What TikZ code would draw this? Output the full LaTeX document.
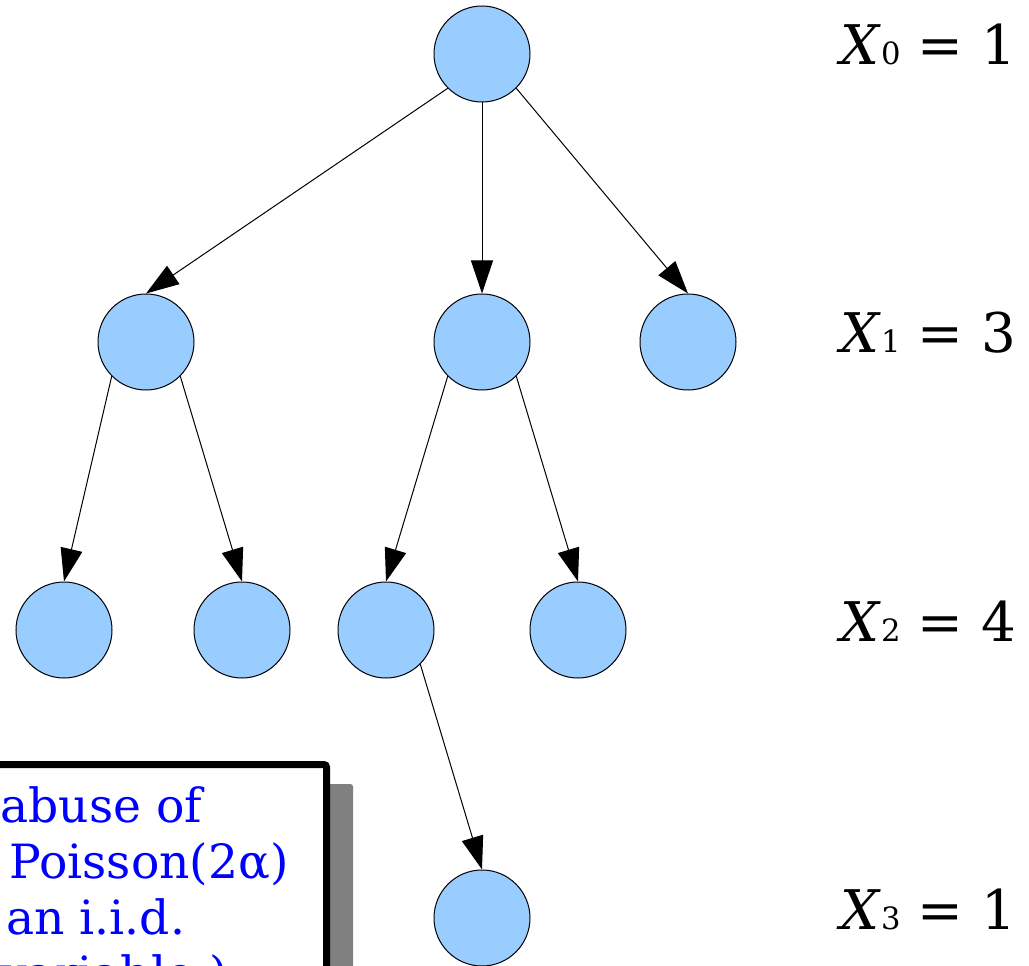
\documentclass[tikz,border=0pt]{standalone}
\usepackage{fontspec}
\setmainfont{DejaVu Serif}
\usetikzlibrary{arrows.meta}
\definecolor{nodeblue}{RGB}{153,204,255}
\definecolor{shadowgrey}{RGB}{128,128,128}
\newcommand{\gensize}{\fontsize{23}{27}\selectfont}
\begin{document}
\begin{tikzpicture}[x=0.75pt,y=-0.75pt,
  vertex/.style={circle,draw=black,line width=0.75pt,fill=nodeblue,minimum size=72pt,inner sep=0pt},
  edge/.style={line width=0.75pt,-{Triangle[length=24.75pt,width=16.5pt]}},
  count/.style={anchor=base west,inner sep=0pt,font=\fontsize{41}{49}\selectfont},
  note/.style={anchor=base west,inner sep=0pt,text=blue,font=\fontsize{35.4}{42}\selectfont}]
\useasboundingbox (0,0) rectangle (1029,966);

% generation 0
\node[vertex] (r) at (482,54) {};
% generation 1
\node[vertex] (a) at (146,342) {};
\node[vertex] (b) at (482,342) {};
\node[vertex] (c) at (688,342) {};
% generation 2
\node[vertex] (aa) at (64,630) {};
\node[vertex] (ab) at (242,630) {};
\node[vertex] (ba) at (386,630) {};
\node[vertex] (bb) at (578,630) {};
% generation 3
\node[vertex] (baa) at (482,918) {};

\draw[edge] (r.south west) -- (a.north);
\draw[edge] (r.south) -- (b.north);
\draw[edge] (r.south east) -- (c.north);
\draw[edge] (a.south west) -- (aa.north);
\draw[edge] (a.south east) -- (ab.north);
\draw[edge] (b.south west) -- (ba.north);
\draw[edge] (b.south east) -- (bb.north);
\draw[edge] (ba.south east) -- (baa.north);

% generation sizes
\node[count] (x0) at (840,65) {\textit{X}{\gensize 0} = 1};
\node[count] (x1) at (840,353) {\textit{X}{\gensize 1} = 3};
\node[count] (x2) at (840,641) {\textit{X}{\gensize 2} = 4};
\node[count] (x3) at (840,929) {\textit{X}{\gensize 3} = 1};

% note box with shadow
\fill[shadowgrey, rounded corners=2pt] (-20,784) rectangle (353,1000);
\draw[fill=white, line width=5.25pt, rounded corners=2pt] (-20,764.5) rectangle (326.5,1000);
\node[note] (n1) at (0,822) {abuse of};
\node[note] (n2) at (9,878) {Poisson(2α)};
\node[note] (n3) at (6,934) {an i.i.d.};
\node[note] (n4) at (0,990) {variable.)};
\end{tikzpicture}
\end{document}
